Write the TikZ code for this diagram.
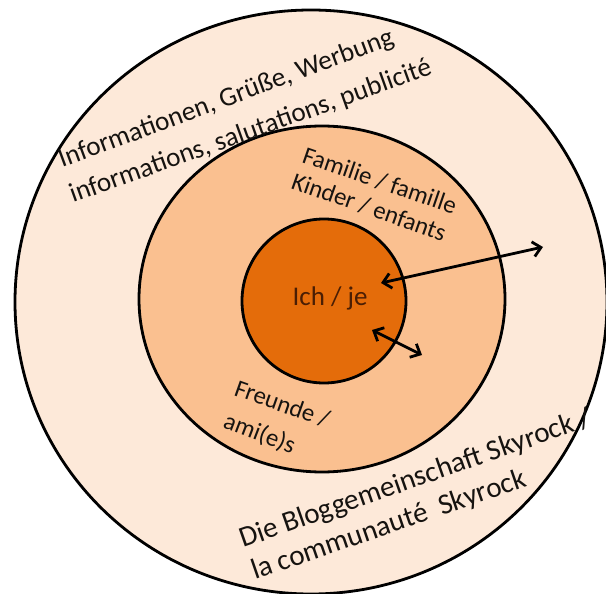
\documentclass[tikz,border=0pt]{standalone}
\usepackage{fontspec}
\setmainfont{Carlito}
\usetikzlibrary{arrows.meta}
\definecolor{outerfill}{HTML}{FDE9D9}
\definecolor{midfill}{HTML}{FAC090}
\definecolor{innerfill}{HTML}{E46C0A}
\definecolor{txtdark}{HTML}{161310}
\definecolor{ichtxt}{HTML}{4A1E04}
\begin{document}
\begin{tikzpicture}[x=1pt,y=-1pt,
  ring/.style={draw=black, line width=2.8pt},
  lbl/.style={inner sep=0pt, anchor=base west, text=txtdark},
  outerlbl/.style={lbl, font=\fontsize{27.2}{32}\selectfont},
  midlbl/.style={lbl, font=\fontsize{24.8}{30}\selectfont},
  botlbl/.style={lbl, font=\fontsize{29.1}{34}\selectfont},
  link/.style={line width=2.8pt, {Straight Barb[length=8pt,width=15pt]}-{Straight Barb[length=8pt,width=15pt]}}
]
\fill[white] (0,0) rectangle (606,594);
\useasboundingbox (0,0) rectangle (606,594);
% circles
\draw[ring, fill=outerfill] (311,302) ellipse [x radius=296, y radius=292];
\draw[ring, fill=midfill] (322,299) ellipse [x radius=183, y radius=173];
\draw[ring, fill=innerfill] (324,301) circle [radius=82];
% outer ring labels
\node[outerlbl, rotate=20.4] (inf1) at (62,168) {Informationen, Grüße, Werbung};
\node[outerlbl, rotate=19.7] (inf2) at (73,203) {informations, salutations, publicité};
\node[botlbl, rotate=19.3] (blog1) at (243,548) {Die Bloggemeinschaft Skyrock /};
\node[botlbl, rotate=19.0] (blog2) at (255,580) {la communauté~ Skyrock};
% middle ring labels
\node[midlbl, rotate=-19] (fam) at (301,162) {Familie / famille};
\node[midlbl, rotate=-19.4] (kind) at (290,188) {Kinder / enfants};
\node[midlbl, rotate=-19.5] (freu) at (233,395) {Freunde /};
\node[midlbl, rotate=-21] (ami) at (222,427) {ami(e)s};
% centre label
\node[inner sep=0pt, anchor=base, text=ichtxt, font=\fontsize{27}{32}\selectfont] (ich) at (330,305) {Ich / je};
% arrows
\coordinate (a1) at (381,283);
\coordinate (a2) at (543,247);
\coordinate (b1) at (372,330);
\coordinate (b2) at (422,355);
\draw[link] (a1) -- (a2);
\draw[link] (b1) -- (b2);
\end{tikzpicture}
\end{document}
